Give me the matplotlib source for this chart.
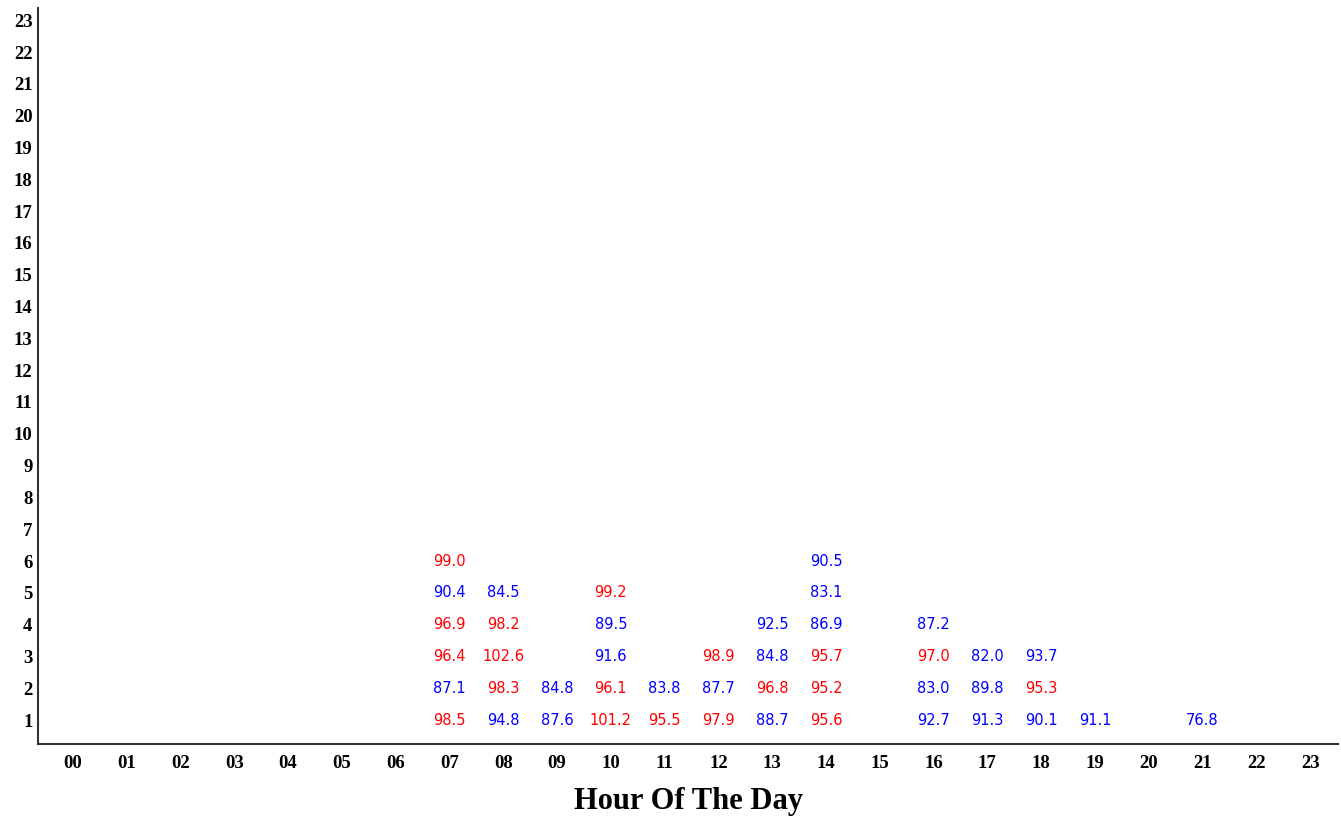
import matplotlib.pyplot as plt

# readings per hour, stacked from row 1 upward
hours = [7, 8, 9, 10, 11, 12, 13, 14, 16, 17, 18, 19, 21]
readings = [
    [98.5, 87.1, 96.4, 96.9, 90.4, 99.0],
    [94.8, 98.3, 102.6, 98.2, 84.5],
    [87.6, 84.8],
    [101.2, 96.1, 91.6, 89.5, 99.2],
    [95.5, 83.8],
    [97.9, 87.7, 98.9],
    [88.7, 96.8, 84.8, 92.5],
    [95.6, 95.2, 95.7, 86.9, 83.1, 90.5],
    [92.7, 83.0, 97.0, 87.2],
    [91.3, 89.8, 82.0],
    [90.1, 95.3, 93.7],
    [91.1],
    [76.8],
]
threshold = 95.0

x_labels = ['%02d' % h for h in range(24)]
y_labels = [str(r) for r in range(1, 24)]

fig = plt.figure(figsize=(13.41, 8.19), dpi=100)
ax = fig.add_axes([0.0283, 0.0916, 0.9695, 0.8985])

for h, vals in zip(hours, readings):
    for row, v in enumerate(vals, start=1):
        color = '#ff0000' if v >= threshold else '#0000ff'
        ax.text(h, row, '%.1f' % v, color=color, ha='center', va='center',
                fontsize=10.5, family='DejaVu Sans')

ax.set_xlim(-0.65, 23.52)
ax.set_ylim(0.25, 23.38)
ax.set_xticks(range(24))
ax.set_xticklabels(x_labels)
ax.set_yticks(range(1, 24))
ax.set_yticklabels(y_labels)
for lbl in ax.get_xticklabels() + ax.get_yticklabels():
    lbl.set_family('Liberation Serif')
    lbl.set_fontweight('bold')
    lbl.set_fontsize(13.5)
ax.tick_params(length=0, pad=8)
ax.tick_params(axis='y', pad=4)

ax.spines['top'].set_visible(False)
ax.spines['right'].set_visible(False)
ax.spines['left'].set_color('#333333')
ax.spines['bottom'].set_color('#333333')
ax.spines['left'].set_linewidth(1.5)
ax.spines['bottom'].set_linewidth(1.5)

ax.set_xlabel('Hour Of The Day', family='Liberation Serif', fontweight='bold',
              fontsize=22, labelpad=11)

fig.savefig('out.png', dpi=100)
